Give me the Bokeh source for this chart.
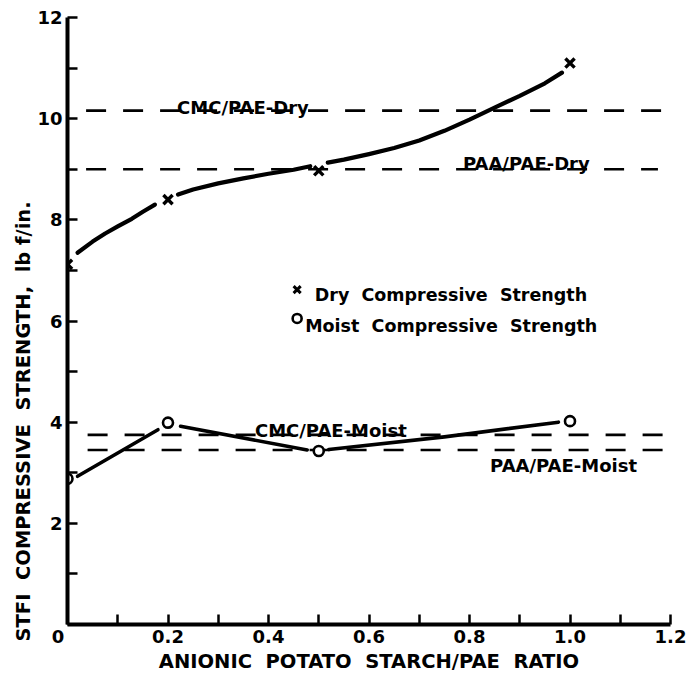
from bokeh.plotting import figure
from bokeh.models import FixedTicker, PrintfTickFormatter, Range1d, Title
from bokeh.core.properties import value
from bokeh.embed import file_html
from bokeh.resources import INLINE

FONT = "DejaVu Sans"
SP = "\u00a0\u00a0"  # wide word spacing that SVG text keeps

# measured compressive strength (lb f/in.) vs anionic potato starch / PAE ratio
ratio = [0.0, 0.2, 0.5, 1.0]
dry_strength = [7.12, 8.40, 8.97, 11.1]
moist_strength = [2.88, 3.99, 3.43, 4.02]

# hand-drawn curve through the dry points, broken where it meets each marker
dry_fit_x = [[0.02, 0.05, 0.075, 0.10, 0.128, 0.15, 0.174],
             [0.22, 0.25, 0.30, 0.35, 0.40, 0.45, 0.483],
             [0.518, 0.55, 0.60, 0.65, 0.70, 0.75, 0.80, 0.85, 0.90, 0.95, 0.984]]
dry_fit_y = [[7.35, 7.57, 7.73, 7.87, 8.02, 8.16, 8.30],
             [8.50, 8.60, 8.72, 8.82, 8.91, 8.99, 9.06],
             [9.13, 9.19, 9.30, 9.42, 9.57, 9.76, 9.98, 10.22, 10.45, 10.70, 10.91]]

# connecting lines through the moist points
moist_fit_x = [[0.02, 0.18], [0.225, 0.477], [0.52, 0.75, 0.977]]
moist_fit_y = [[2.93, 3.85], [3.92, 3.45], [3.46, 3.71, 4.0]]

# reference levels for the CMC and PAA systems
ref_names = ["CMC/PAE-Dry", "PAA/PAE-Dry", "CMC/PAE-Moist", "PAA/PAE-Moist"]
ref_strength = [10.16, 9.0, 3.75, 3.45]
ref_start = [0.037, 0.037, 0.04, 0.04]
ref_end = [1.2, 1.175, 1.2, 1.2]

x_ticks = [0.0, 0.2, 0.4, 0.6, 0.8, 1.0, 1.2]
x_minor = [0.1, 0.3, 0.5, 0.7, 0.9, 1.1]
y_ticks = [0, 2, 4, 6, 8, 10, 12]
y_minor = [1, 3, 5, 7, 9, 11]

x_title = SP.join(["ANIONIC", "POTATO", "STARCH/PAE", "RATIO"])
y_title = SP.join(["STFI", "COMPRESSIVE", "STRENGTH,", "lb f/in."])

p = figure(width=687, height=676,
           x_range=Range1d(0, 1.2), y_range=Range1d(0, 12),
           output_backend="svg", toolbar_location=None,
           min_border_left=67, min_border_right=17,
           min_border_top=17, min_border_bottom=52)
p.outline_line_color = None
p.grid.visible = False
p.background_fill_color = "white"
p.border_fill_color = "white"

for ax in (p.xaxis[0], p.yaxis[0]):
    ax.axis_line_width = 4
    ax.axis_line_color = "black"
    ax.major_tick_in = 10
    ax.major_tick_out = 0
    ax.minor_tick_in = 10
    ax.minor_tick_out = 0
    ax.major_tick_line_width = 2.5
    ax.minor_tick_line_width = 2.5
    ax.major_label_text_font = FONT
    ax.major_label_text_font_style = "bold"
    ax.major_label_text_font_size = "18px"
    ax.major_label_text_color = "black"

p.xaxis.ticker = FixedTicker(ticks=x_ticks, minor_ticks=x_minor)
p.xaxis.formatter = PrintfTickFormatter(format="%.1f")
# the origin label sits a little left of the corner
p.xaxis.major_label_overrides = {0: "0" + "\u00a0" * 3}
p.xaxis.major_label_standoff = 1
p.xaxis.axis_label = x_title
p.xaxis.axis_label_standoff = 0
p.xaxis.axis_label_text_font = FONT
p.xaxis.axis_label_text_font_style = "bold"
p.xaxis.axis_label_text_font_size = "19.5px"
p.xaxis.axis_label_text_color = "black"

p.yaxis.ticker = FixedTicker(ticks=y_ticks, minor_ticks=y_minor)
p.yaxis.major_label_overrides = {0: ""}
p.yaxis.major_label_standoff = 5

# y title starts just below the bottom of the axis
p.add_layout(Title(text=y_title, align="left", offset=-17,
                   text_font=FONT, text_font_style="bold",
                   text_font_size="19.5px", text_color="black",
                   standoff=0), "left")

# reference levels
p.segment(x0=ref_start, x1=ref_end, y0=ref_strength, y1=ref_strength,
          line_color="black", line_width=2.7, line_dash="20 17")

# fitted curves
p.multi_line(xs=dry_fit_x, ys=dry_fit_y, line_color="black", line_width=4.2,
             line_cap="round", line_join="round")
p.multi_line(xs=moist_fit_x, ys=moist_fit_y, line_color="black", line_width=3.6,
             line_cap="round", line_join="round")

# data points
p.scatter(ratio, dry_strength, marker="x", size=13, line_width=3.4,
          line_color="black")
p.scatter(ratio, moist_strength, marker="circle", size=10, line_width=2.6,
          line_color="black", fill_color="white")

text_kw = dict(text_font=value(FONT), text_font_style="bold",
               text_color="black", text_baseline="alphabetic",
               text_align="left")

# names of the reference levels
p.text(x=[0.218, 0.787, 0.373, 0.841], y=[10.22, 9.11, 3.84, 3.14],
       text=ref_names, text_font_size="18px", **text_kw)

# key
p.scatter([0.457], [6.62], marker="x", size=10, line_width=3, line_color="black")
p.scatter([0.457], [6.05], marker="circle", size=9, line_width=2.6,
          line_color="black", fill_color="white")
p.text(x=[0.492, 0.473], y=[6.52, 5.91],
       text=[SP.join(["Dry", "Compressive", "Strength"]),
             SP.join(["Moist", "Compressive", "Strength"])],
       text_font_size="17.5px", **text_kw)

open("out.html", "w").write(file_html(p, INLINE))
